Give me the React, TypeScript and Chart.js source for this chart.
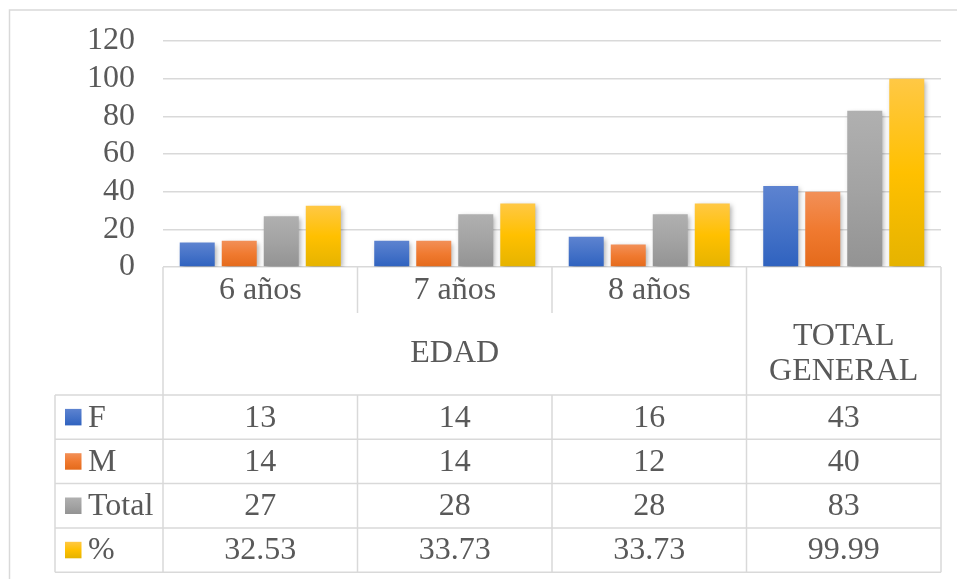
import React, { useEffect, useRef } from "react";
import { Chart, registerables } from "chart.js";

Chart.register(...registerables);

const categories = ["6 años", "7 años", "8 años", ""];
const groupLabels: (string | string[])[] = ["EDAD", ["TOTAL", "GENERAL"]];
const groupSpans = [3, 1];
const seriesNames = ["F", "M", "Total", "%"];
const valuesF = [13, 14, 16, 43];
const valuesM = [14, 14, 12, 40];
const valuesTotal = [27, 28, 28, 83];
const valuesPct = [32.53, 33.73, 33.73, 99.99];
const yTicks = [0, 20, 40, 60, 80, 100, 120];

const seriesValues = [valuesF, valuesM, valuesTotal, valuesPct];
const gradientStops: string[][] = [
  ["#5d83d0", "#4673c8", "#2f62bf"],
  ["#f29058", "#f07a30", "#e46a1b"],
  ["#b0b0b0", "#a3a3a3", "#939393"],
  ["#ffc845", "#ffc000", "#e5b300"],
];
const baseColors = ["#4472c4", "#ed7d31", "#a5a5a5", "#ffc000"];

const FONT_SIZE = 32;
const FONT_FAMILY = "'Liberation Serif', 'Times New Roman', serif";
const FONT = `${FONT_SIZE}px ${FONT_FAMILY}`;
const TEXT = "#595959";
const LINE = "#d9d9d9";

function makeGradient(c: CanvasRenderingContext2D, top: number, bottom: number, stops: string[]) {
  const g = c.createLinearGradient(0, top, 0, bottom);
  g.addColorStop(0, stops[0]);
  g.addColorStop(0.5, stops[1]);
  g.addColorStop(1, stops[2]);
  return g;
}

const borderPlugin = {
  id: "outerBorder",
  beforeDraw(chart: any) {
    const c = chart.ctx as CanvasRenderingContext2D;
    c.save();
    c.fillStyle = "#ffffff";
    c.fillRect(0, 0, chart.width, chart.height);
    c.strokeStyle = LINE;
    c.lineWidth = 1.5;
    c.beginPath();
    c.moveTo(9.5, chart.height + 2);
    c.lineTo(9.5, 10);
    c.lineTo(chart.width + 2, 10);
    c.stroke();
    c.restore();
  },
};

const shadowPlugin = {
  id: "barShadow",
  beforeDatasetsDraw(chart: any) {
    const c = chart.ctx as CanvasRenderingContext2D;
    c.save();
    c.shadowColor = "rgba(0,0,0,0.32)";
    c.shadowBlur = 5;
    c.shadowOffsetX = 2;
    c.shadowOffsetY = 2;
  },
  afterDatasetsDraw(chart: any) {
    chart.ctx.restore();
  },
};

const tablePlugin = {
  id: "dataTable",
  afterDraw(chart: any) {
    const c = chart.ctx as CanvasRenderingContext2D;
    const xs = chart.scales.x;
    const ys = chart.scales.y;
    const n = categories.length;
    const left = chart.chartArea.left;
    const right = chart.chartArea.right;
    const cw = (right - left) / n;
    const colLeft = (i: number) => xs.getPixelForValue(i) - cw / 2;
    const y0 = ys.getPixelForValue(0);
    const r1 = y0 + 46;
    const r2 = y0 + 128;
    const rh = 44.3;
    const legendLeft = 55;

    c.save();
    c.strokeStyle = LINE;
    c.lineWidth = 1.5;
    c.beginPath();
    const bottom = r2 + rh * seriesNames.length;
    c.moveTo(left, y0); c.lineTo(left, bottom);
    c.moveTo(right, y0); c.lineTo(right, bottom);
    let acc = 0;
    const groupEdges: number[] = [];
    groupSpans.forEach((s) => { acc += s; groupEdges.push(acc); });
    for (let i = 1; i < n; i++) {
      const x = colLeft(i);
      if (groupEdges.includes(i)) {
        c.moveTo(x, y0); c.lineTo(x, bottom);
      } else {
        c.moveTo(x, y0); c.lineTo(x, r1);
        c.moveTo(x, r2); c.lineTo(x, bottom);
      }
    }
    c.moveTo(legendLeft, r2); c.lineTo(legendLeft, bottom);
    for (let k = 0; k <= seriesNames.length; k++) {
      const y = r2 + rh * k;
      c.moveTo(legendLeft, y); c.lineTo(right, y);
    }
    c.stroke();

    c.fillStyle = TEXT;
    c.font = FONT;
    c.textAlign = "center";
    c.textBaseline = "middle";
    categories.forEach((lab, i) => {
      if (lab) c.fillText(lab, xs.getPixelForValue(i), y0 + 24);
    });
    let start = 0;
    groupLabels.forEach((lab, gi) => {
      const span = groupSpans[gi];
      const cx = colLeft(start) + (cw * span) / 2;
      const cy = (r1 + r2) / 2;
      const lines = Array.isArray(lab) ? lab : [lab];
      const lh = 35.5;
      lines.forEach((t, li) => {
        c.fillText(t, cx, cy + (li - (lines.length - 1) / 2) * lh);
      });
      start += span;
    });
    seriesNames.forEach((name, si) => {
      const cy = r2 + rh * si + rh / 2;
      const key = 16.5;
      c.fillStyle = makeGradient(c, cy - key / 2, cy + key / 2, gradientStops[si]);
      c.fillRect(65, cy - key / 2, key, key);
      c.fillStyle = TEXT;
      c.textAlign = "left";
      c.fillText(name, 88, cy + 1);
      c.textAlign = "center";
      seriesValues[si].forEach((v, i) => {
        const txt = si === 3 ? v.toFixed(2) : String(v);
        c.fillText(txt, xs.getPixelForValue(i), cy + 1);
      });
    });
    c.restore();
  },
};

export default function App() {
  const ref = useRef<HTMLCanvasElement | null>(null);
  useEffect(() => {
    if (!ref.current) return;
    const chart = new Chart(ref.current, {
      type: "bar",
      data: {
        labels: categories,
        datasets: seriesNames.map((name, si) => ({
          label: name,
          data: seriesValues[si],
          backgroundColor: (ctx: any) => {
            const ch = ctx.chart;
            if (!ch.chartArea || ctx.type !== "data") return baseColors[si];
            const top = ch.scales.y.getPixelForValue(ctx.raw);
            const bot = ch.scales.y.getPixelForValue(0);
            return makeGradient(ch.ctx, top, bot, gradientStops[si]);
          },
          borderWidth: 0,
          categoryPercentage: 0.864,
          barPercentage: 0.833,
        })),
      },
      options: {
        responsive: false,
        animation: false,
        devicePixelRatio: 1,
        layout: { padding: { left: 10, right: 16, top: 41, bottom: 312 } },
        plugins: { legend: { display: false }, tooltip: { enabled: false } },
        scales: {
          x: { display: false },
          y: {
            min: 0,
            max: 120,
            afterBuildTicks: (scale: any) => {
              scale.ticks = yTicks.map((v) => ({ value: v }));
            },
            afterFit: (scale: any) => {
              scale.width = 153;
            },
            border: { display: false },
            grid: { color: LINE, lineWidth: 1.5, drawTicks: true, tickLength: 28, tickColor: "rgba(0,0,0,0)" },
            ticks: {
              autoSkip: false,
              padding: 0,
              color: TEXT,
              font: { family: FONT_FAMILY, size: FONT_SIZE },
            },
          },
        },
      },
      plugins: [borderPlugin, shadowPlugin, tablePlugin],
    });
    return () => chart.destroy();
  }, []);
  return (
    <div style={{ position: "fixed", left: 0, top: 0, width: 957, height: 579, overflow: "hidden", background: "#fff" }}>
      <canvas ref={ref} width={957} height={579} style={{ width: 957, height: 579, display: "block" }} />
    </div>
  );
}
